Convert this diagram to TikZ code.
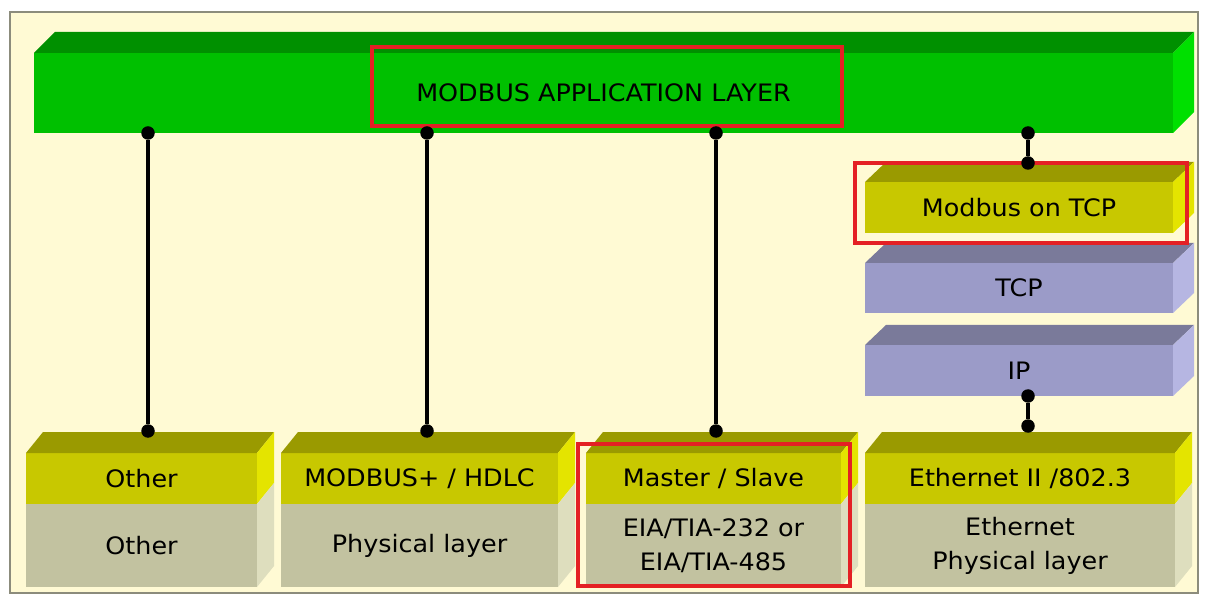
\documentclass[tikz,border=0pt]{standalone}
\usepackage{fontspec}
\setmainfont[FakeStretch=1.06]{DejaVu Sans}
\definecolor{bgcream}{RGB}{255,250,212}
\definecolor{framegray}{RGB}{140,140,124}
\definecolor{gfront}{RGB}{0,192,0}
\definecolor{gtop}{RGB}{0,144,0}
\definecolor{gside}{RGB}{0,224,0}
\definecolor{yfront}{RGB}{200,200,0}
\definecolor{ytop}{RGB}{154,154,0}
\definecolor{yside}{RGB}{228,228,0}
\definecolor{pfront}{RGB}{194,194,160}
\definecolor{pside}{RGB}{222,222,190}
\definecolor{lfront}{RGB}{155,155,200}
\definecolor{ltop}{RGB}{122,122,154}
\definecolor{lside}{RGB}{182,182,226}
\definecolor{hired}{RGB}{228,32,36}
\newcommand\topface[4]{\fill[#4] (#1.north west) -- ++(#2,-#3) -- ([shift={(#2,-#3)}]#1.north east) -- (#1.north east) -- cycle;}
\newcommand\sideface[4]{\fill[#4] (#1.north east) -- ++(#2,-#3) -- ([shift={(#2,-#3)}]#1.south east) -- (#1.south east) -- cycle;}
\begin{document}
\begin{tikzpicture}[x=1pt,y=-1pt,
  face/.style={anchor=north west,inner sep=0pt,outer sep=0pt,draw=none,align=center,
    font=\fontsize{24}{34}\selectfont,text=black},
  dotnode/.style={circle,fill=black,inner sep=0pt,minimum size=13.5pt,outer sep=0pt},
  conn/.style={line width=4pt,black},
  hibox/.style={draw=hired,line width=4pt},
]
\useasboundingbox (0,0) rectangle (1210,601);
\fill[white] (0,0) rectangle (1210,601);
\draw[framegray,line width=2.5pt,fill=bgcream] (10,12) rectangle (1198,593);

% application layer bar
\node[face,fill=gfront,minimum width=1139pt,minimum height=80pt] (app) at (34,53) {MODBUS APPLICATION LAYER};
\topface{app}{21}{21}{gtop}
\sideface{app}{21}{21}{gside}

% right TCP stack
\node[face,fill=yfront,minimum width=308pt,minimum height=51pt] (mtcp) at (865,182) {Modbus on TCP};
\topface{mtcp}{21}{20}{ytop}
\sideface{mtcp}{21}{20}{yside}
\node[face,fill=lfront,minimum width=308pt,minimum height=50pt] (tcp) at (865,263) {TCP};
\topface{tcp}{21}{20}{ltop}
\sideface{tcp}{21}{20}{lside}
\node[face,fill=lfront,minimum width=308pt,minimum height=51pt] (ip) at (865,345) {IP};
\topface{ip}{21}{20}{ltop}
\sideface{ip}{21}{20}{lside}

% bottom boxes
\node[face,fill=yfront,minimum width=231pt,minimum height=51pt] (o1) at (26,453) {Other};
\node[face,fill=pfront,minimum width=231pt,minimum height=83pt] (p1) at (26,504) {Other};
\node[face,fill=yfront,minimum width=277pt,minimum height=51pt] (o2) at (281,453) {MODBUS+ / HDLC};
\node[face,fill=pfront,minimum width=277pt,minimum height=83pt] (p2) at (281,504) {Physical layer};
\node[face,fill=yfront,minimum width=255pt,minimum height=51pt] (o3) at (586,453) {Master / Slave};
\node[face,fill=pfront,minimum width=255pt,minimum height=83pt] (p3) at (586,504) {EIA/TIA-232 or\\EIA/TIA-485};
\node[face,fill=yfront,minimum width=310pt,minimum height=51pt] (o4) at (865,453) {Ethernet II /802.3};
\node[face,fill=pfront,minimum width=310pt,minimum height=83pt] (p4) at (865,504) {Ethernet\\Physical layer};
\foreach \n in {1,2,3,4}{
  \topface{o\n}{17}{21}{ytop}
  \sideface{o\n}{17}{21}{yside}
  \sideface{p\n}{17}{21}{pside}
}

% highlight boxes
\draw[hibox] (372,47) rectangle (842,126);
\draw[hibox] (855,163) rectangle (1187,243);
\draw[hibox] (578,444) rectangle (850,586);

% connectors
\node[dotnode] (d1a) at (148,133) {};
\node[dotnode] (d1b) at (148,431) {};
\node[dotnode] (d2a) at (427,133) {};
\node[dotnode] (d2b) at (427,431) {};
\node[dotnode] (d3a) at (716,133) {};
\node[dotnode] (d3b) at (716,431) {};
\node[dotnode] (d4a) at (1028,133) {};
\node[dotnode] (d4b) at (1028,163) {};
\node[dotnode] (d5a) at (1028,396) {};
\node[dotnode] (d5b) at (1028,426) {};
\draw[conn] (d1a) -- (d1b);
\draw[conn] (d2a) -- (d2b);
\draw[conn] (d3a) -- (d3b);
\draw[conn] (d4a) -- (d4b);
\draw[conn] (d5a) -- (d5b);
\end{tikzpicture}
\end{document}
